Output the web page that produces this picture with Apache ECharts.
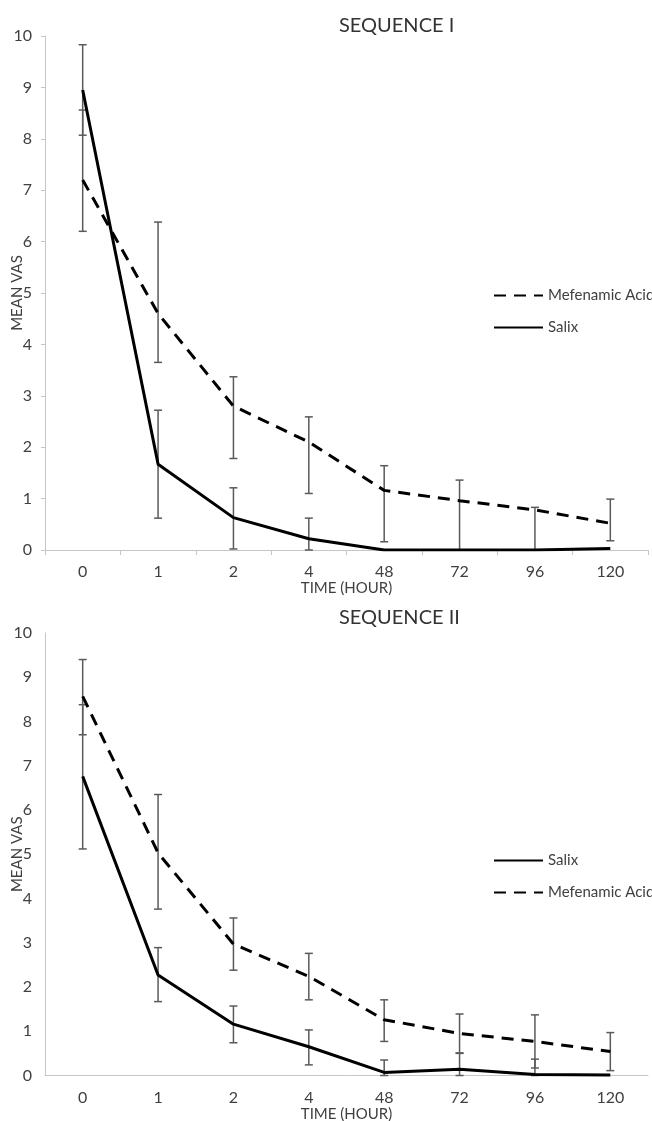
<!DOCTYPE html>
<html>
<head>
<meta charset="utf-8">
<script src="https://cdn.jsdelivr.net/npm/echarts@6/dist/echarts.min.js"></script>
<style>
  html, body { margin: 0; padding: 0; background: #fff; }
  #chart { width: 652px; height: 1121px; }
</style>
</head>
<body>
<div id="chart"></div>
<script>
// 时间点 (小时)
var hours = ['0', '1', '2', '4', '48', '72', '96', '120'];

// SEQUENCE I
var seq1Mef = [7.2, 4.6, 2.8, 2.1, 1.16, 0.96, 0.78, 0.52];
var seq1MefLow = [6.2, 3.65, 1.78, 1.1, 0.16, 0, 0, 0.18];
var seq1MefHigh = [8.56, 6.38, 3.37, 2.59, 1.64, 1.36, 0.83, 0.99];
var seq1Salix = [8.95, 1.67, 0.63, 0.22, 0, 0, 0, 0.03];
var seq1SalixLow = [8.07, 0.62, 0.02, 0, 0, 0, 0, 0];
var seq1SalixHigh = [9.83, 2.72, 1.21, 0.62, 0, 0, 0, 0];

// SEQUENCE II
var seq2Salix = [6.76, 2.27, 1.16, 0.65, 0.07, 0.14, 0.02, 0.01];
var seq2SalixLow = [5.12, 1.67, 0.74, 0.24, 0, 0, 0, 0];
var seq2SalixHigh = [8.38, 2.89, 1.57, 1.03, 0.35, 0.5, 0.37, 0];
var seq2Mef = [8.57, 5.03, 2.97, 2.24, 1.26, 0.95, 0.77, 0.54];
var seq2MefLow = [7.7, 3.76, 2.38, 1.71, 0.77, 0.51, 0.17, 0.11];
var seq2MefHigh = [9.4, 6.35, 3.56, 2.76, 1.71, 1.39, 1.37, 0.97];

var FONT = 'Lato';
var TEXT = '#404040';
var AXIS = '#c6c6c6';

function errData(low, high) {
  return low.map(function (v, i) { return [i, v, high[i]]; });
}

// 误差线
function renderErr(params, api) {
  var lo = api.value(1), hi = api.value(2);
  if (hi - lo < 0.001) return null;
  var p1 = api.coord([api.value(0), lo]);
  var p2 = api.coord([api.value(0), hi]);
  var w = 4;
  var st = { stroke: '#5a5a5a', lineWidth: 1.5 };
  return {
    type: 'group',
    children: [
      { type: 'line', shape: { x1: p1[0], y1: p1[1], x2: p2[0], y2: p2[1] }, style: st },
      { type: 'line', shape: { x1: p1[0] - w, y1: p1[1], x2: p1[0] + w, y2: p1[1] }, style: st },
      { type: 'line', shape: { x1: p2[0] - w, y1: p2[1], x2: p2[0] + w, y2: p2[1] }, style: st }
    ]
  };
}

function lineSeries(name, data, idx, dashed) {
  return {
    name: name,
    type: 'line',
    xAxisIndex: idx,
    yAxisIndex: idx,
    data: data,
    symbol: 'none',
    z: 3,
    lineStyle: { color: '#000', width: 3, type: dashed ? [12, 8] : 'solid' },
    itemStyle: { color: '#000' }
  };
}

function errSeries(low, high, idx) {
  return {
    type: 'custom',
    xAxisIndex: idx,
    yAxisIndex: idx,
    renderItem: renderErr,
    data: errData(low, high),
    z: 2,
    silent: true
  };
}

function xAxisOf(idx, showTick) {
  return {
    type: 'category',
    gridIndex: idx,
    data: hours,
    boundaryGap: true,
    name: 'TIME (HOUR)',
    nameLocation: 'middle',
    nameGap: 31,
    nameMoveOverlap: false,
    nameTextStyle: { color: TEXT, fontFamily: FONT, fontSize: 15 },
    axisLine: { lineStyle: { color: AXIS, width: 1 } },
    axisTick: { show: showTick, length: 5, lineStyle: { color: AXIS } },
    axisLabel: { color: TEXT, fontFamily: FONT, fontSize: 16, margin: 14 }
  };
}

function yAxisOf(idx, showTick) {
  return {
    type: 'value',
    gridIndex: idx,
    min: 0,
    max: 10,
    interval: 1,
    name: 'MEAN VAS',
    nameLocation: 'middle',
    nameGap: 20,
    nameMoveOverlap: false,
    nameTextStyle: { color: TEXT, fontFamily: FONT, fontSize: 15 },
    axisLine: { show: true, lineStyle: { color: AXIS, width: 1 } },
    axisTick: { show: showTick, length: 4, lineStyle: { color: AXIS } },
    splitLine: { show: false },
    axisLabel: { color: TEXT, fontFamily: FONT, fontSize: 16, margin: 13 }
  };
}

function legendOf(top, names) {
  return {
    orient: 'vertical', left: 488, top: top,
    data: names,
    itemWidth: 49, itemHeight: 14, itemGap: 17,
    itemStyle: { opacity: 0 },
    textStyle: { color: TEXT, fontFamily: FONT, fontSize: 15 },
    selectedMode: false
  };
}

var myChart = echarts.init(document.getElementById('chart'));

var option = {
  backgroundColor: '#fff',
  animation: false,
  title: [
    { text: 'SEQUENCE I', left: 334, top: 11, textStyle: { color: '#333', fontFamily: FONT, fontSize: 20, fontWeight: 'normal' } },
    { text: 'SEQUENCE II', left: 334, top: 603, textStyle: { color: '#333', fontFamily: FONT, fontSize: 20, fontWeight: 'normal' } }
  ],
  legend: [
    legendOf(283, ['Mefenamic Acid', 'Salix']),
    legendOf(848, ['Salix', 'Mefenamic Acid'])
  ],
  grid: [
    { left: 45, right: 4, top: 36, height: 514, containLabel: false, outerBoundsMode: 'none' },
    { left: 45, right: 4, top: 633, height: 442.5, containLabel: false, outerBoundsMode: 'none' }
  ],
  xAxis: [xAxisOf(0, true), xAxisOf(1, false)],
  yAxis: [yAxisOf(0, true), yAxisOf(1, false)],
  series: [
    errSeries(seq1MefLow, seq1MefHigh, 0),
    errSeries(seq1SalixLow, seq1SalixHigh, 0),
    lineSeries('Mefenamic Acid', seq1Mef, 0, true),
    lineSeries('Salix', seq1Salix, 0, false),
    errSeries(seq2MefLow, seq2MefHigh, 1),
    errSeries(seq2SalixLow, seq2SalixHigh, 1),
    lineSeries('Salix', seq2Salix, 1, false),
    lineSeries('Mefenamic Acid', seq2Mef, 1, true)
  ]
};

myChart.setOption(option);
</script>
</body>
</html>
